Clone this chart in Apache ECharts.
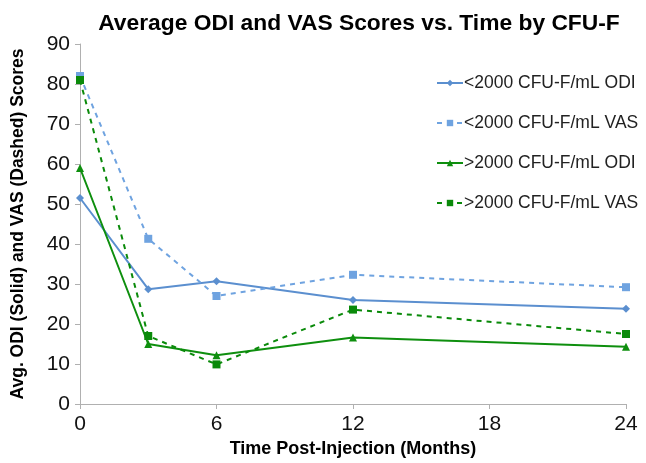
<!DOCTYPE html>
<html><head><meta charset="utf-8">
<script src="https://cdn.jsdelivr.net/npm/echarts@6/dist/echarts.min.js"></script>
<style>html,body{margin:0;padding:0;background:#fff}#c{width:646px;height:463px}</style>
</head><body><div id="c"></div>
<script>
const months = [0, 3, 6, 12, 24];
const lowODI = [51.5, 28.7, 30.7, 26.0, 23.8];
const lowVAS = [82.0, 41.3, 27.0, 32.3, 29.2];
const highODI = [59.0, 15.0, 12.2, 16.6, 14.3];
const highVAS = [81.0, 17.0, 9.9, 23.6, 17.5];
const names = ['<2000 CFU-F/mL ODI', '<2000 CFU-F/mL VAS', '>2000 CFU-F/mL ODI', '>2000 CFU-F/mL VAS'];
const pair = v => months.map((m, i) => [m, v[i]]);
const blue = '#5B8FCF', blueL = '#6FA3E0', green = '#0E8F0E', greenD = '#0A8A0A';
const tickFont = "'Liberation Sans Narrow', 'Liberation Sans', Arial, sans-serif";
function s(name, data, color, type, symbol, size) {
  return {
    name, type: 'line', data: pair(data), symbol, symbolSize: size,
    lineStyle: { color, width: 2, type },
    itemStyle: { color },
    emphasis: { disabled: true }
  };
}
const chart = echarts.init(document.getElementById('c'));
chart.setOption({
  animation: false,
  title: {
    text: 'Average ODI and VAS Scores vs. Time by CFU-F',
    left: 354, top: 7, textAlign: 'center',
    textStyle: { fontFamily: 'Liberation Sans', fontWeight: 'bold', fontSize: 22.8, color: '#000' }
  },
  legend: {
    orient: 'vertical', left: 436, top: 74, padding: 0, itemGap: 22, itemWidth: 26, itemHeight: 8,
    textStyle: { fontFamily: 'Liberation Sans', fontSize: 17.5, color: '#222', padding: [0, 0, 0, -4] },
    data: names
  },
  grid: { left: 80, right: 20, top: 44, bottom: 59 },
  xAxis: {
    type: 'value', min: 0, max: 24, interval: 6,
    name: 'Time Post-Injection (Months)', nameLocation: 'middle', nameGap: 36,
    nameTextStyle: { fontFamily: 'Liberation Sans', fontWeight: 'bold', fontSize: 18, color: '#000' },
    axisLine: { lineStyle: { color: '#B0B0B0', width: 1 } },
    axisTick: { show: true, length: 5, lineStyle: { color: '#B0B0B0' } },
    axisLabel: { fontFamily: tickFont, fontSize: 21, color: '#111', margin: 10 },
    splitLine: { show: false }
  },
  yAxis: {
    type: 'value', min: 0, max: 90, interval: 10,
    name: 'Avg. ODI (Solid) and VAS (Dashed) Scores', nameLocation: 'middle', nameGap: 53, nameRotate: 90,
    nameTextStyle: { fontFamily: 'Liberation Sans', fontWeight: 'bold', fontSize: 17.5, color: '#000' },
    axisLine: { show: true, lineStyle: { color: '#B0B0B0', width: 1 } },
    axisTick: { show: true, length: 5, lineStyle: { color: '#B0B0B0' } },
    axisLabel: { fontFamily: tickFont, fontSize: 21, color: '#111', margin: 10 },
    splitLine: { show: false }
  },
  series: [
    s(names[0], lowODI, blue, 'solid', 'diamond', 8),
    s(names[1], lowVAS, blueL, [5, 5], 'rect', 8),
    s(names[2], highODI, green, 'solid', 'triangle', 8),
    s(names[3], highVAS, greenD, [5, 5], 'rect', 8)
  ]
});
</script></body></html>
